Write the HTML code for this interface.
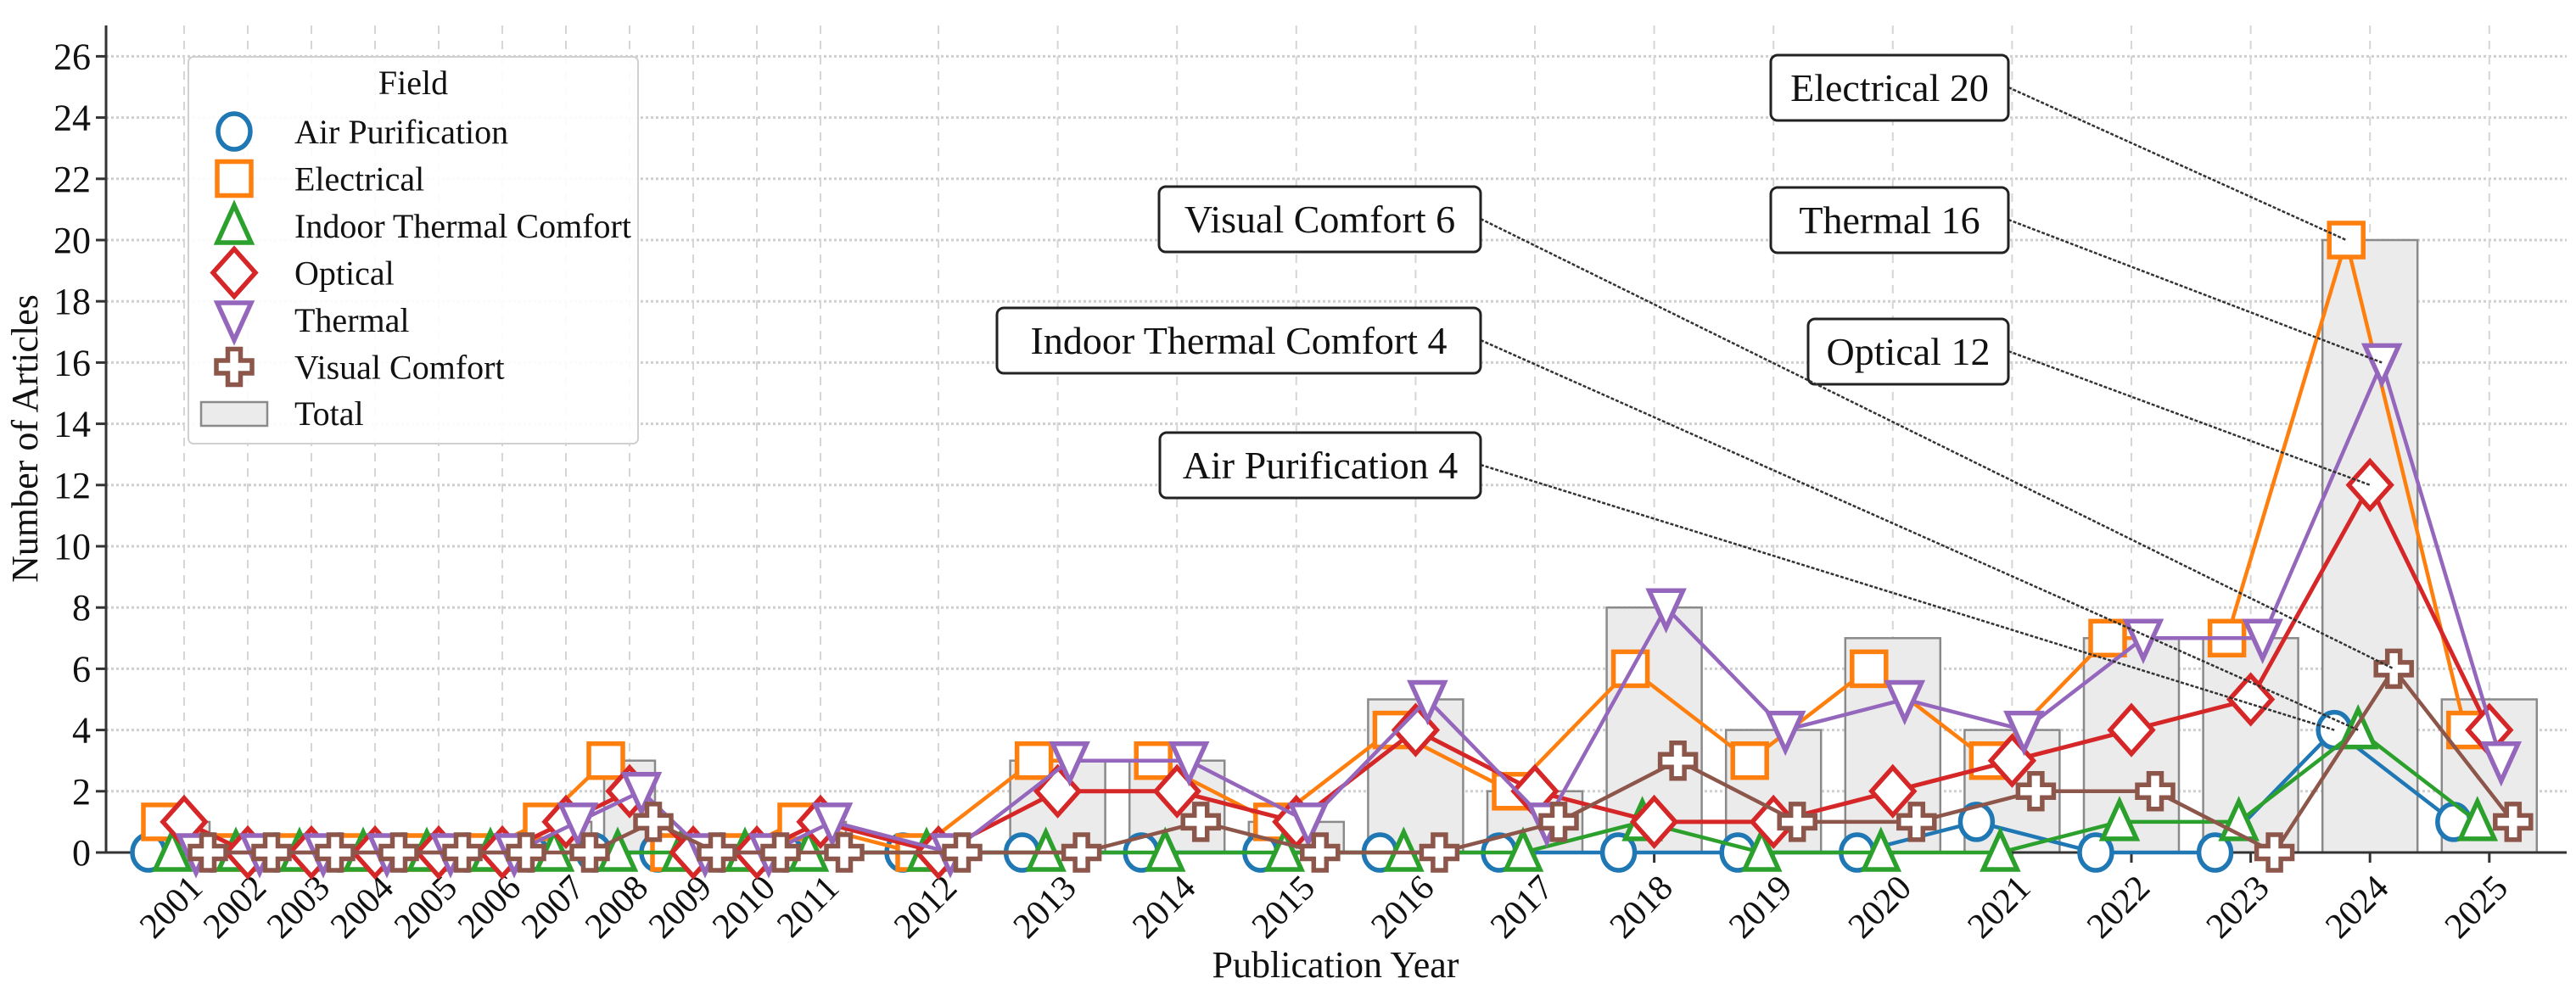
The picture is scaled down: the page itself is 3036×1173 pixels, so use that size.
<!DOCTYPE html>
<html><head><meta charset="utf-8"><style>
html,body{margin:0;padding:0;background:#fff;}
svg{display:block;font-family:"Liberation Serif",serif;}
</style></head><body>
<svg id="chart" width="3036" height="1173" viewBox="0 0 3036 1173" xmlns="http://www.w3.org/2000/svg"></svg>
<script>
const years=[2001,2002,2003,2004,2005,2006,2007,2008,2009,2010,2011,2012,2013,2014,2015,2016,2017,2018,2019,2020,2021,2022,2023,2024,2025];
const totals=[1,0,0,0,0,0,1,3,0,0,1,0,3,3,1,5,2,8,4,7,4,7,7,20,5];
const airPurification=[0,0,0,0,0,0,0,0,0,0,0,0,0,0,0,0,0,0,0,0,1,0,0,4,1];
const electrical=[1,0,0,0,0,0,1,3,0,0,1,0,3,3,1,4,2,6,3,6,3,7,7,20,4];
const indoorThermal=[0,0,0,0,0,0,0,0,0,0,0,0,0,0,0,0,0,1,0,0,0,1,1,4,1];
const optical=[1,0,0,0,0,0,1,2,0,0,1,0,2,2,1,4,2,1,1,2,3,4,5,12,4];
const thermal=[0,0,0,0,0,0,1,2,0,0,1,0,3,3,1,5,1,8,4,5,4,7,7,16,3];
const visualComfort=[0,0,0,0,0,0,0,1,0,0,0,0,0,1,0,0,1,3,1,1,2,2,0,6,1];
const yTicks=[0,2,4,6,8,10,12,14,16,18,20,22,24,26];
const seriesNames=["Air Purification","Electrical","Indoor Thermal Comfort","Optical","Thermal","Visual Comfort"];
const seriesColors=["#1f77b4","#ff7f0e","#2ca02c","#d62728","#9467bd","#8c564b"];
const seriesMarkers=["circle","square","triangle","diamond","tridown","plus"];
const seriesData=[airPurification,electrical,indoorThermal,optical,thermal,visualComfort];
const annotations=[
 {label:"Electrical 20",s:1,bx:2367,by:103,w:280},
 {label:"Thermal 16",s:4,bx:2367,by:259,w:280},
 {label:"Optical 12",s:3,bx:2367,by:414,w:236},
 {label:"Visual Comfort 6",s:5,bx:1745,by:258,w:379},
 {label:"Indoor Thermal Comfort 4",s:2,bx:1745,by:401,w:570},
 {label:"Air Purification 4",s:0,bx:1745,by:548,w:378}
];
const NS="http://www.w3.org/2000/svg";
const svg=document.getElementById('chart');
const X0=125,XR=3025,Y0=1005,YT=30,UNIT=36.1;
function xs(year){return year<=2011?217+(year-2001)*75:1106+(year-2012)*140.6;}
function bw(year){return year<=2011?60:112;}
function ys(v){return Y0-v*UNIT;}
function mk(tag,attrs,parent){const e=document.createElementNS(NS,tag);for(const k in attrs)e.setAttribute(k,attrs[k]);(parent||svg).appendChild(e);return e;}
function marker(type,cx,cy,color,g){
 let e;const sw=5.5;
 if(type==="circle")e=mk('ellipse',{cx:cx,cy:cy,rx:19,ry:21},g);
 else if(type==="square")e=mk('rect',{x:cx-20,y:cy-20,width:40,height:40},g);
 else if(type==="triangle")e=mk('polygon',{points:`${cx},${cy-24} ${cx+20},${cy+20} ${cx-20},${cy+20}`},g);
 else if(type==="tridown")e=mk('polygon',{points:`${cx},${cy+24} ${cx+20},${cy-20} ${cx-20},${cy-20}`},g);
 else if(type==="diamond")e=mk('polygon',{points:`${cx},${cy-28} ${cx+25},${cy} ${cx},${cy+28} ${cx-25},${cy}`},g);
 else {const a=21,b=7.5;e=mk('polygon',{points:`${cx-b},${cy-a} ${cx+b},${cy-a} ${cx+b},${cy-b} ${cx+a},${cy-b} ${cx+a},${cy+b} ${cx+b},${cy+b} ${cx+b},${cy+a} ${cx-b},${cy+a} ${cx-b},${cy+b} ${cx-a},${cy+b} ${cx-a},${cy-b} ${cx-b},${cy-b}`},g);}
 e.setAttribute('fill','#fff');e.setAttribute('stroke',color);e.setAttribute('stroke-width',sw);e.setAttribute('stroke-linejoin','miter');
 return e;
}
const grid=mk('g',{});


yTicks.forEach(t=>{if(t>0)mk('line',{x1:X0,x2:XR,y1:ys(t),y2:ys(t),stroke:'#cfcfcf','stroke-width':3,'stroke-dasharray':'3,3'},grid);});
years.forEach(y=>{mk('line',{x1:xs(y),x2:xs(y),y1:YT,y2:Y0,stroke:'#d6d6d6','stroke-width':2,'stroke-dasharray':'10,8'},grid);});
const bars=mk('g',{});


years.forEach((y,i)=>{if(totals[i]<=0)return;const r=mk('rect',{x:xs(y)-bw(y)/2,y:ys(totals[i]),width:bw(y),height:Y0-ys(totals[i]),fill:'#ebebeb',stroke:'#8a8a8a','stroke-width':2.5},bars);

});
const ax=mk('g',{});


mk('line',{x1:X0,x2:X0,y1:YT,y2:Y0,stroke:'#333','stroke-width':3},ax);
mk('line',{x1:X0,x2:XR,y1:Y0,y2:Y0,stroke:'#333','stroke-width':3},ax);
yTicks.forEach(t=>{mk('line',{x1:X0-12,x2:X0,y1:ys(t),y2:ys(t),stroke:'#333','stroke-width':3},ax);
 const tx=mk('text',{x:X0-18,y:ys(t)+15,'text-anchor':'end','font-size':44,fill:'#111'},ax);tx.textContent=t;
 
 });
years.forEach(y=>{mk('line',{x1:xs(y),x2:xs(y),y1:Y0,y2:Y0+12,stroke:'#333','stroke-width':3},ax);
 const tx=mk('text',{'text-anchor':'end','font-size':42,fill:'#111',transform:`translate(${xs(y)+24},${Y0+44}) rotate(-45)`},ax);tx.textContent=y;
 
 });
const yl=mk('text',{'text-anchor':'middle','font-size':44,fill:'#111',transform:`translate(44,517) rotate(-90)`});yl.textContent="Number of Articles";


const xl=mk('text',{x:1574,y:1152,'text-anchor':'middle','font-size':44,fill:'#111'});xl.textContent="Publication Year";


function off(k){return (k-3)*14;}
seriesData.forEach((arr,k)=>{
 const g=mk('g',{});
 
 
 const pts=years.map((y,i)=>`${xs(y)+off(k)},${ys(arr[i])}`).join(' ');
 mk('polyline',{points:pts,fill:'none',stroke:seriesColors[k],'stroke-width':k===3?5:4.5},g);
 years.forEach((y,i)=>{const m=marker(seriesMarkers[k],xs(y)+off(k),ys(arr[i]),seriesColors[k],g);
 
 });
});
annotations.forEach(a=>{
 const g=mk('g',{});
 
 
 const idx=years.indexOf(2024);
 const tx=xs(2024)+off(a.s),ty=ys(seriesData[a.s][idx]);
 mk('line',{x1:a.bx,y1:a.by,x2:tx,y2:ty,stroke:'#333','stroke-width':2.5,'stroke-dasharray':'4,2'},g);
 mk('rect',{x:a.bx-a.w,y:a.by-38,width:a.w,height:77,rx:8,fill:'#fff',stroke:'#222','stroke-width':3},g);
 const t=mk('text',{x:a.bx-a.w/2,y:a.by+16,'text-anchor':'middle','font-size':46,fill:'#111'},g);t.textContent=a.label;
});
const lg=mk('g',{});


mk('rect',{x:222,y:67,width:530,height:456,rx:6,fill:'#fff','fill-opacity':0.9,stroke:'#d0d0d0','stroke-width':2},lg);
const lt=mk('text',{x:487,y:111,'text-anchor':'middle','font-size':40,fill:'#111'},lg);lt.textContent="Field";
seriesNames.forEach((n,k)=>{const cy=155+k*55.5;
 const e=mk('g',{},lg);
 
 
 marker(seriesMarkers[k],276,cy,seriesColors[k],e);
 const t=mk('text',{x:347,y:cy+14,'font-size':40,fill:'#111'},e);t.textContent=n;});
const te=mk('g',{},lg);


mk('rect',{x:237,y:474,width:78,height:28,fill:'#ebebeb',stroke:'#8a8a8a','stroke-width':2.5},te);
const tt=mk('text',{x:347,y:501,'font-size':40,fill:'#111'},te);tt.textContent="Total";
</script>
</body></html>
